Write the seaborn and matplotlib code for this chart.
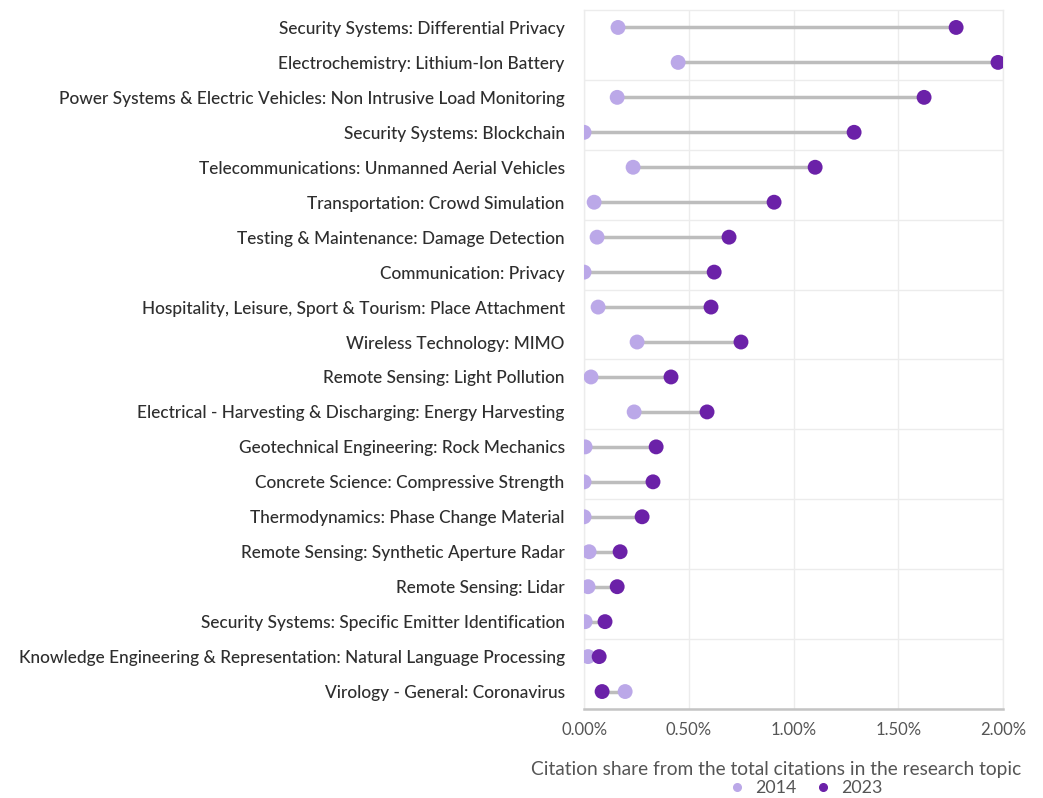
import pandas as pd
import matplotlib
matplotlib.use("Agg")
import matplotlib.pyplot as plt
import numpy as np
import seaborn as sns
from matplotlib.ticker import FuncFormatter, FixedLocator

topics = [
    "Security Systems: Differential Privacy",
    "Electrochemistry: Lithium-Ion Battery",
    "Power Systems & Electric Vehicles: Non Intrusive Load Monitoring",
    "Security Systems: Blockchain",
    "Telecommunications: Unmanned Aerial Vehicles",
    "Transportation: Crowd Simulation",
    "Testing & Maintenance: Damage Detection",
    "Communication: Privacy",
    "Hospitality, Leisure, Sport & Tourism: Place Attachment",
    "Wireless Technology: MIMO",
    "Remote Sensing: Light Pollution",
    "Electrical - Harvesting & Discharging: Energy Harvesting",
    "Geotechnical Engineering: Rock Mechanics",
    "Concrete Science: Compressive Strength",
    "Thermodynamics: Phase Change Material",
    "Remote Sensing: Synthetic Aperture Radar",
    "Remote Sensing: Lidar",
    "Security Systems: Specific Emitter Identification",
    "Knowledge Engineering & Representation: Natural Language Processing",
    "Virology - General: Coronavirus",
]
share_2014 = [0.162, 0.449, 0.158, 0.000, 0.234, 0.048, 0.062, 0.000, 0.067, 0.253,
              0.033, 0.239, 0.005, 0.000, 0.000, 0.024, 0.019, 0.005, 0.019, 0.196]
share_2023 = [1.776, 1.976, 1.623, 1.289, 1.103, 0.907, 0.692, 0.621, 0.606, 0.749,
              0.415, 0.587, 0.344, 0.329, 0.277, 0.172, 0.158, 0.100, 0.072, 0.086]

c2014 = "#bba8e8"
c2023 = "#6b21a8"

df = pd.DataFrame({"topic": topics * 2,
                   "share": share_2014 + share_2023,
                   "year": ["2014"] * len(topics) + ["2023"] * len(topics)})
df["pos"] = list(range(len(topics))) * 2

sns.set_style("white")
plt.rcParams["font.family"] = ["Lato", "DejaVu Sans"]

fig = plt.figure(figsize=(10.43, 7.98), dpi=100)
ax = fig.add_axes([0.56, 0.1115, 0.4017, 0.876])

pos = np.arange(len(topics))
ax.hlines(pos, share_2014, share_2023, color="#bdbdbd", lw=2.5, zorder=1)
sns.scatterplot(data=df, x="share", y="pos", hue="year",
                palette={"2014": c2014, "2023": c2023},
                s=115, edgecolor="none", ax=ax, zorder=3, legend=False)

ax.set_xlim(0, 2.0)
ax.set_ylim(len(topics) - 0.5, -0.5)
ax.set_yticks(pos)
ax.set_yticklabels(topics, fontsize=12.4, color="#2e2e2e", fontweight="medium")
ax.set_xticks([0, 0.5, 1.0, 1.5, 2.0])
ax.xaxis.set_major_formatter(FuncFormatter(lambda v, p: f"{v:.2f}%"))
ax.tick_params(axis="x", labelsize=12, labelcolor="#555555", length=0, pad=9)
ax.tick_params(axis="y", length=0, pad=14)
ax.yaxis.set_minor_locator(FixedLocator(np.arange(1.5, len(topics), 2)))
ax.grid(axis="x", which="major", color="#ececec", lw=1)
ax.grid(axis="y", which="minor", color="#ececec", lw=1)
ax.set_axisbelow(True)
ax.set_ylabel("")
ax.set_xlabel("Citation share from the total citations in the research topic",
              fontsize=13.8, color="#555555")
ax.xaxis.set_label_coords(0.458, -0.075)

for side in ["top", "left", "right"]:
    ax.spines[side].set_color("#ececec")
    ax.spines[side].set_linewidth(1)
ax.spines["bottom"].set_color("#c4c4c4")
ax.spines["bottom"].set_linewidth(1.8)

handles = [plt.Line2D([], [], marker="o", ls="", color=c2014, markersize=5.5, label="2014"),
           plt.Line2D([], [], marker="o", ls="", color=c2023, markersize=5.5, label="2023")]
fig.legend(handles=handles, loc="center", bbox_to_anchor=(0.768, 0.012), ncol=2,
           frameon=False, fontsize=12.8, handletextpad=0.0, columnspacing=0.5,
           labelcolor="#555555")

fig.savefig("out.png", dpi=100)
